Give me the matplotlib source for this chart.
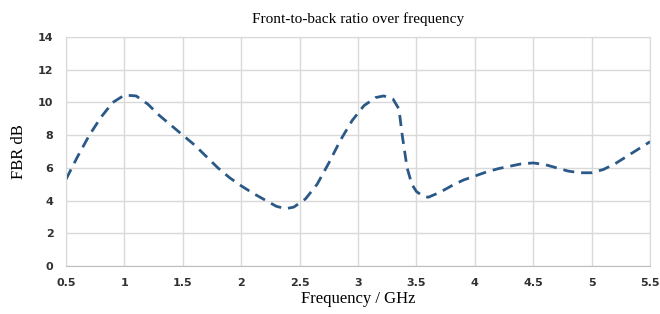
import matplotlib
matplotlib.use("Agg")
import matplotlib.pyplot as plt

# values
freq = [0.5, 0.6, 0.7, 0.8, 0.9, 1.0, 1.1, 1.2, 1.3, 1.4, 1.5, 1.6, 1.7, 1.8, 1.9, 2.0,
        2.1, 2.2, 2.3, 2.38, 2.45, 2.55, 2.65, 2.75, 2.85, 2.95, 3.05, 3.15, 3.22, 3.3,
        3.35, 3.38, 3.42, 3.46, 3.5, 3.55, 3.6, 3.7, 3.8, 3.9, 4.0, 4.1, 4.2, 4.3, 4.4,
        4.5, 4.6, 4.7, 4.8, 4.9, 5.0, 5.1, 5.2, 5.3, 5.4, 5.5]
fbr = [5.3, 6.7, 8.0, 9.1, 10.0, 10.45, 10.4, 9.9, 9.2, 8.6, 8.0, 7.4, 6.7, 6.0, 5.4, 4.9,
       4.45, 4.05, 3.65, 3.5, 3.6, 4.1, 5.0, 6.3, 7.7, 8.9, 9.8, 10.3, 10.4, 10.2,
       9.6, 7.9, 6.0, 5.0, 4.55, 4.3, 4.2, 4.5, 4.9, 5.25, 5.5, 5.75, 5.95, 6.1, 6.25,
       6.3, 6.2, 6.0, 5.8, 5.7, 5.7, 5.9, 6.25, 6.7, 7.15, 7.6]

xticks = [0.5, 1, 1.5, 2, 2.5, 3, 3.5, 4, 4.5, 5, 5.5]
xtick_labels = ["0.5", "1", "1.5", "2", "2.5", "3", "3.5", "4", "4.5", "5", "5.5"]
yticks = [0, 2, 4, 6, 8, 10, 12, 14]

fig = plt.figure(figsize=(6.6, 3.14), dpi=100)
ax = fig.add_axes([0.1, 0.153, 0.885, 0.729])
ax.plot(freq, fbr, color="#2b5987", linewidth=2, linestyle=(0, (4, 2.5)))

ax.set_xlim(0.5, 5.5)
ax.set_ylim(0, 14)
ax.set_xticks(xticks)
ax.set_xticklabels(xtick_labels)
ax.set_yticks(yticks)
ax.grid(True, color="#d9d9d9", linewidth=1)
ax.tick_params(length=0, labelsize=8, colors="#303030", pad=9)
for lbl in ax.get_xticklabels() + ax.get_yticklabels():
    lbl.set_fontweight("semibold")
for s in ax.spines.values():
    s.set_color("#d9d9d9")
ax.spines["bottom"].set_color("#bfbfbf")

ax.set_title("Front-to-back ratio over frequency", fontname="Liberation Serif", fontsize=11, pad=10)
ax.set_xlabel("Frequency / GHz", fontname="Liberation Serif", fontsize=12, labelpad=2)
ax.set_ylabel("FBR dB", fontname="Liberation Serif", fontsize=12, labelpad=8)

fig.savefig("out.png", dpi=100)
